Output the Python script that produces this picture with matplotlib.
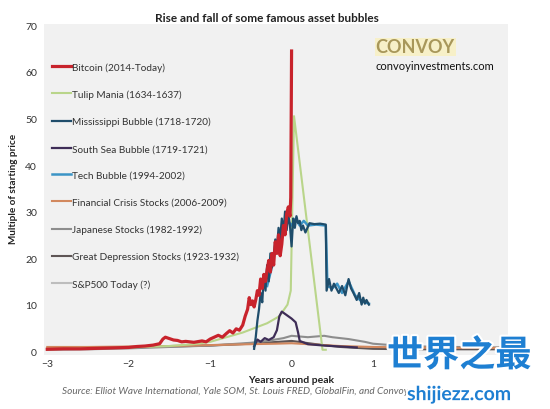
import matplotlib.pyplot as plt
import matplotlib.patheffects as pe

plt.rcParams['font.family'] = ['Lato', 'DejaVu Sans']

# Данные (годы вокруг пика, кратность начальной цены)
btc_x = [-3.0, -2.8, -2.6, -2.4, -2.2, -2.0, -1.9, -1.8, -1.7, -1.62, -1.58, -1.55, -1.5, -1.45, -1.4,
         -1.35, -1.3, -1.2, -1.1, -1.05, -1.0, -0.95, -0.9, -0.85, -0.8, -0.76, -0.72, -0.68, -0.64, -0.6,
         -0.57, -0.54, -0.52, -0.5, -0.48, -0.46, -0.44, -0.42, -0.4, -0.38, -0.36, -0.34, -0.32, -0.3, -0.28,
         -0.26, -0.24, -0.22, -0.2, -0.18, -0.16, -0.14, -0.12, -0.1, -0.08, -0.06, -0.04, -0.02, -0.01, 0.0]
btc_y = [0.4, 0.5, 0.5, 0.6, 0.7, 0.8, 1.0, 1.1, 1.3, 1.6, 2.6, 3.0, 2.7, 2.4, 2.3,
         2.0, 2.1, 1.9, 2.2, 2.0, 2.6, 3.0, 3.4, 3.0, 3.8, 4.4, 3.9, 4.8, 4.5, 5.6,
         7.5, 9.0, 11.5, 10.0, 10.8, 9.5, 11, 13.0, 12, 15.5, 13.5, 16.5, 15, 17.5, 19.5,
         17, 21, 18.5, 23.5, 21, 25, 20.5, 23, 27, 25, 29.5, 31, 29, 33, 64.5]

tulip_x = [-3.0, -2.5, -2.0, -1.5, -1.2, -1.0, -0.8, -0.6, -0.45, -0.3, -0.15, -0.05, -0.01, 0.03, 0.38, 0.42]
tulip_y = [0.4, 0.6, 0.8, 1.1, 1.5, 2.0, 3.0, 4.0, 5.0, 6.0, 7.5, 10.0, 13.0, 50.5, 0.3, 0.3]

miss_x = [-0.46, -0.44, -0.42, -0.4, -0.38, -0.36, -0.34, -0.32, -0.3, -0.28, -0.26, -0.24, -0.22, -0.2,
          -0.18, -0.16, -0.14, -0.12, -0.1, -0.08, -0.06, -0.04, -0.02, 0.0, 0.02, 0.04, 0.06, 0.08,
          0.1, 0.12, 0.14, 0.17, 0.22, 0.28, 0.35, 0.42, 0.43, 0.46, 0.49, 0.52, 0.55, 0.58, 0.62,
          0.66, 0.7, 0.73, 0.76, 0.8, 0.83, 0.86, 0.88, 0.9, 0.92, 0.95]
miss_y = [0.5, 3.0, 6.5, 9.0, 12.5, 10.5, 16.5, 13.0, 18.5, 15.0, 21.0, 18.0, 20.5, 24.0,
          22.0, 26.5, 24.0, 28.5, 25.5, 30.0, 26.0, 29.5, 27.0, 22.5, 28.5, 26.5, 29.0, 27.5,
          28.0, 26.0, 27.0, 25.5, 27.5, 27.3, 27.4, 27.2, 13.0, 15.5, 13.0, 14.5, 13.5, 12.5, 14.0,
          12.0, 15.5, 13.5, 12.5, 11.0, 12.5, 10.0, 11.5, 10.2, 11.0, 10.0]

tech_x = [-0.3, -0.25, -0.2, -0.15, -0.1, -0.05, 0.0, 0.05, 0.1, 0.15, 0.2, 0.3, 0.42, 0.44, 0.5,
          0.56, 0.62, 0.7, 0.78, 0.84, 0.9, 0.95]
tech_y = [14.0, 17.5, 22.0, 25.0, 26.5, 28.0, 27.0, 28.5, 27.0, 28.0, 27.0, 27.2, 27.0, 14.0, 13.5,
          14.5, 12.5, 15.0, 12.0, 11.0, 10.5, 10.2]

south_x = [-0.46, -0.42, -0.38, -0.33, -0.28, -0.22, -0.18, -0.15, -0.12, -0.08, -0.04, 0.0, 0.05, 0.08,
           0.1, 0.2, 0.4, 0.6, 0.8]
south_y = [1.0, 2.5, 2.0, 2.8, 2.4, 3.0, 4.5, 7.5, 8.5, 8.0, 7.5, 7.0, 6.2, 4.0,
           2.2, 1.5, 1.2, 1.0, 0.8]

fin_x = [-3.0, -2.5, -2.0, -1.5, -1.0, -0.5, -0.2, 0.0, 0.3, 0.6, 1.0, 1.5, 2.0, 2.7]
fin_y = [0.9, 0.9, 1.0, 1.1, 1.3, 1.5, 1.6, 1.7, 1.4, 1.1, 0.9, 0.8, 0.7, 0.7]

japan_x = [-3.0, -2.5, -2.0, -1.5, -1.0, -0.5, -0.3, -0.1, 0.0, 0.2, 0.4, 0.5, 0.7, 0.9, 1.0,
           1.3, 1.6, 2.0, 2.5, 2.7]
japan_y = [0.3, 0.4, 0.6, 0.9, 1.2, 1.8, 2.2, 2.8, 3.3, 3.0, 3.3, 3.0, 2.6, 2.0, 1.6,
           1.2, 1.0, 0.9, 0.8, 0.8]

depr_x = [-3.0, -2.0, -1.0, -0.5, 0.0, 0.3, 0.6, 1.0, 1.5, 2.7]
depr_y = [0.5, 0.8, 1.2, 1.6, 2.2, 1.5, 0.9, 0.5, 0.4, 0.4]

sp_x = [-3.0, -2.0, -1.0, -0.5, 0.0]
sp_y = [0.6, 0.9, 1.3, 1.6, 1.9]

fig = plt.figure(figsize=(5.5, 4.1), dpi=100)
ax = fig.add_axes([0.08, 0.132, 0.844, 0.807])
ax.set_facecolor('#f1f1f1')

ax.plot(sp_x, sp_y, color='#bdbdbd', lw=1.5, label='S&P500 Today (?)', zorder=2)
ax.plot(depr_x, depr_y, color='#5e5555', lw=1.5, label='Great Depression Stocks (1923-1932)', zorder=2)
ax.plot(japan_x, japan_y, color='#8d8d8d', lw=1.5, label='Japanese Stocks (1982-1992)', zorder=2)
ax.plot(fin_x, fin_y, color='#d2885e', lw=1.5, label='Financial Crisis Stocks (2006-2009)', zorder=2)
ax.plot(tulip_x, tulip_y, color='#b9d58a', lw=1.5, label='Tulip Mania (1634-1637)', zorder=3)
ax.plot(south_x, south_y, color='#3e2d57', lw=1.6, label='South Sea Bubble (1719-1721)', zorder=3)
ax.plot(tech_x, tech_y, color='#3b94c6', lw=1.8, label='Tech Bubble (1994-2002)', zorder=4)
ax.plot(miss_x, miss_y, color='#1f4d6b', lw=1.6, label='Mississippi Bubble (1718-1720)', zorder=4)
ax.plot(btc_x, btc_y, color='#c8232c', lw=2.3, label='Bitcoin (2014-Today)', zorder=5)

ax.set_xlim(-3.04, 2.66)
ax.set_ylim(-0.8, 70.3)
ax.set_xticks([-3, -2, -1, 0, 1])
ax.set_yticks(range(0, 71, 10))
ax.tick_params(length=0, labelsize=7.5, labelcolor='#333333')
ax.tick_params(axis='y', pad=5)
ax.tick_params(axis='x', pad=3)
for s in ax.spines.values():
    s.set_visible(False)

# Легенда в порядке оригинала
h, l = ax.get_legend_handles_labels()
order = ['Bitcoin (2014-Today)', 'Tulip Mania (1634-1637)', 'Mississippi Bubble (1718-1720)',
         'South Sea Bubble (1719-1721)', 'Tech Bubble (1994-2002)', 'Financial Crisis Stocks (2006-2009)',
         'Japanese Stocks (1982-1992)', 'Great Depression Stocks (1923-1932)', 'S&P500 Today (?)']
hd = dict(zip(l, h))
ax.legend([hd[k] for k in order], order, loc='upper left', bbox_to_anchor=(0.017, 0.885),
          frameon=False, fontsize=7.2, handlelength=1.9, handletextpad=0.15,
          labelspacing=1.78, borderpad=0, borderaxespad=0, labelcolor='#333333')

fig.text(0.485, 0.955, 'Rise and fall of some famous asset bubbles', ha='center', va='center',
         fontsize=8.5, fontweight='bold', color='#222222')
fig.text(0.024, 0.54, 'Multiple of starting price', rotation=90, ha='center', va='center',
         fontsize=7.2, fontweight='bold', color='#222222')
ax.text(0, -0.075, 'Years around peak', transform=ax.get_xaxis_transform(), ha='center', va='center',
        fontsize=7.5, fontweight='bold', color='#222222')
fig.text(0.113, 0.046, 'Source: Elliot Wave International, Yale SOM, St. Louis FRED, GlobalFin, and Convoy analysis',
         ha='left', va='center', fontsize=7.2, style='italic', color='#666666')

# Логотип
fig.text(0.683, 0.883, 'CONVOY', ha='left', va='center', fontsize=13, fontweight='bold',
         color='#a8975a', bbox=dict(boxstyle='square,pad=0.05', fc='#f7f0c8', ec='none'))
fig.text(0.683, 0.837, 'convoyinvestments.com', ha='left', va='center', fontsize=8, color='#111111')

# Водяной знак поверх подписи источника
outline = [pe.withStroke(linewidth=3, foreground='white')]
fig.text(0.835, 0.13, '世界之最', ha='center', va='center', fontsize=26, fontweight='bold',
         color='#1e7fd2', family=['Noto Sans CJK SC', 'DejaVu Sans'], path_effects=outline)
fig.text(0.835, 0.035, 'shijiezz.com', ha='center', va='center', fontsize=14, fontweight='bold',
         color='#1e7fd2', path_effects=outline)

fig.savefig('out.png', dpi=100, facecolor='white')
